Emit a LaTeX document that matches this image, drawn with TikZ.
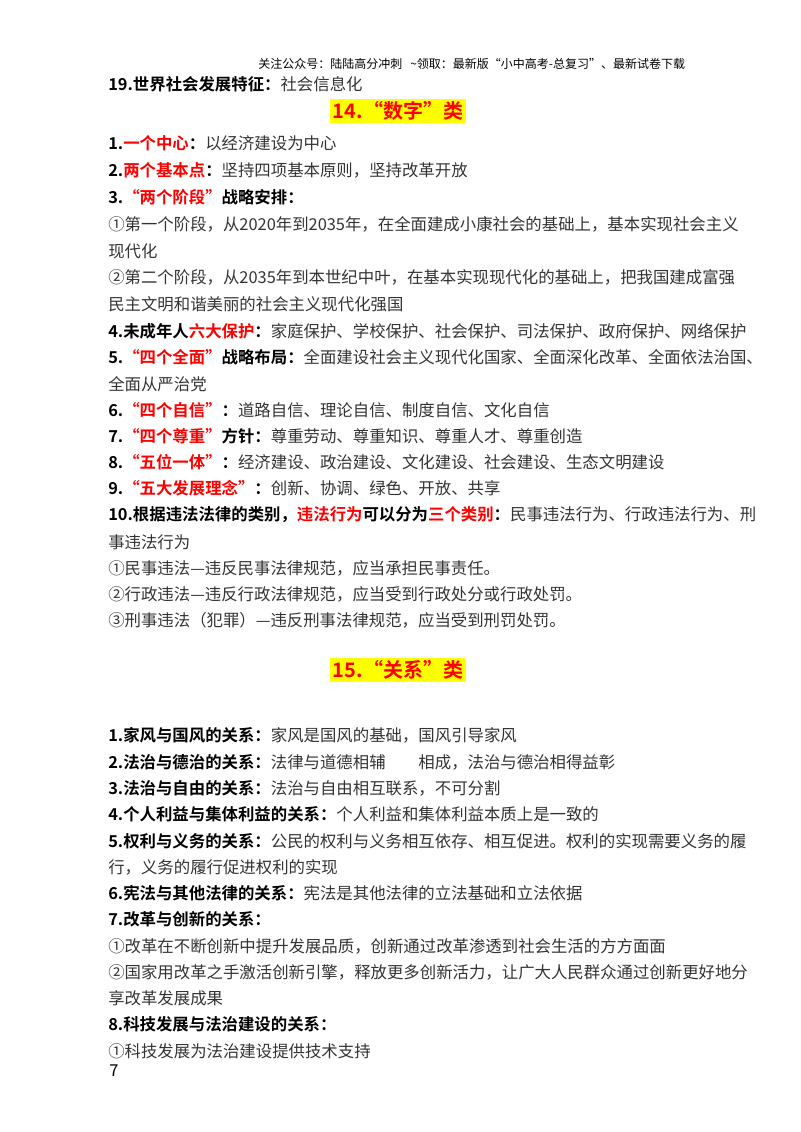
\documentclass[tikz,border=0pt]{standalone}
\usepackage{fontspec}
\setmainfont{Liberation Serif}
\newfontfamily\cjk{Noto Sans CJK SC}[BoldFont={Noto Sans CJK SC Bold}]
\definecolor{body}{HTML}{333333}
\definecolor{rd}{HTML}{FF0000}
\definecolor{hl}{HTML}{FFFF00}
\newcommand{\Bk}[1]{{\bfseries\color{black}#1}}
\newcommand{\Rd}[1]{{\bfseries\color{rd}#1}}
\tikzset{ln/.style={anchor=west,inner sep=0pt,font=\cjk\fontsize{12.3}{14}\selectfont,text=body},
 ttl/.style={inner sep=2pt,fill=hl,font=\cjk\bfseries\fontsize{15}{18}\selectfont,text=rd},
 hdr/.style={anchor=west,inner sep=0pt,font=\cjk\fontsize{9}{10}\selectfont,text=black}}
\begin{document}
\begin{tikzpicture}[x=0.75pt,y=-0.75pt]
\useasboundingbox (0,0) rectangle (800,1132);
\node[hdr] (h) at (258,64) {关注公众号：陆陆高分冲刺\ \ \ \~{}领取：最新版“小中高考-总复习”、最新试卷下载};
\node[ln] (a0) at (108,84) {\Bk{19.世界社会发展特征：}社会信息化};
\node[ttl] (t1) at (398,111) {14.“数字”类};
\node[ln] (a1) at (108,143) {\Bk{1.}\Rd{一个中心}\Bk{：}以经济建设为中心};
\node[ln] (a2) at (108,170) {\Bk{2.}\Rd{两个基本点}\Bk{：}坚持四项基本原则，坚持改革开放};
\node[ln] (a3) at (108,197) {\Bk{3.}\Rd{“两个阶段”}\Bk{战略安排：}};
\node[ln] (a4) at (108,224) {①第一个阶段，从2020年到2035年，在全面建成小康社会的基础上，基本实现社会主义};
\node[ln] (a5) at (108,251) {现代化};
\node[ln] (a6) at (108,277) {②第二个阶段，从2035年到本世纪中叶，在基本实现现代化的基础上，把我国建成富强};
\node[ln] (a7) at (108,304) {民主文明和谐美丽的社会主义现代化强国};
\node[ln] (a8) at (108,331) {\Bk{4.未成年人}\Rd{六大保护}\Bk{：}家庭保护、学校保护、社会保护、司法保护、政府保护、网络保护};
\node[ln] (a9) at (108,357) {\Bk{5.}\Rd{“四个全面”}\Bk{战略布局：}全面建设社会主义现代化国家、全面深化改革、全面依法治国、};
\node[ln] (a10) at (108,384) {全面从严治党};
\node[ln] (a11) at (108,410) {\Bk{6.}\Rd{“四个自信”}\Bk{：}道路自信、理论自信、制度自信、文化自信};
\node[ln] (a12) at (108,436) {\Bk{7.}\Rd{“四个尊重”}\Bk{方针：}尊重劳动、尊重知识、尊重人才、尊重创造};
\node[ln] (a13) at (108,462) {\Bk{8.}\Rd{“五位一体”}\Bk{：}经济建设、政治建设、文化建设、社会建设、生态文明建设};
\node[ln] (a14) at (108,488) {\Bk{9.}\Rd{“五大发展理念”}\Bk{：}创新、协调、绿色、开放、共享};
\node[ln] (a15) at (108,515) {\Bk{10.根据违法法律的类别，}\Rd{违法行为}\Bk{可以分为}\Rd{三个类别}\Bk{：}民事违法行为、行政违法行为、刑};
\node[ln] (a16) at (108,542) {事违法行为};
\node[ln] (a17) at (108,568) {①民事违法—违反民事法律规范，应当承担民事责任。};
\node[ln] (a18) at (108,594) {②行政违法—违反行政法律规范，应当受到行政处分或行政处罚。};
\node[ln] (a19) at (108,620) {③刑事违法（犯罪）—违反刑事法律规范，应当受到刑罚处罚。};
\node[ttl] (t2) at (398,670) {15.“关系”类};
\node[ln] (b1) at (108,735) {\Bk{1.家风与国风的关系：}家风是国风的基础，国风引导家风};
\node[ln] (b2) at (108,762) {\Bk{2.法治与德治的关系：}法律与道德相辅\hspace{2em}相成，法治与德治相得益彰};
\node[ln] (b3) at (108,788) {\Bk{3.法治与自由的关系：}法治与自由相互联系，不可分割};
\node[ln] (b4) at (108,814) {\Bk{4.个人利益与集体利益的关系：}个人利益和集体利益本质上是一致的};
\node[ln] (b5) at (108,841) {\Bk{5.权利与义务的关系：}公民的权利与义务相互依存、相互促进。权利的实现需要义务的履};
\node[ln] (b6) at (108,867) {行，义务的履行促进权利的实现};
\node[ln] (b7) at (108,893) {\Bk{6.宪法与其他法律的关系：}宪法是其他法律的立法基础和立法依据};
\node[ln] (b8) at (108,919) {\Bk{7.改革与创新的关系：}};
\node[ln] (b9) at (108,946) {①改革在不断创新中提升发展品质，创新通过改革渗透到社会生活的方方面面};
\node[ln] (b10) at (108,972) {②国家用改革之手激活创新引擎，释放更多创新活力，让广大人民群众通过创新更好地分};
\node[ln] (b11) at (108,998) {享改革发展成果};
\node[ln] (b12) at (108,1024) {\Bk{8.科技发展与法治建设的关系：}};
\node[ln] (b13) at (108,1051) {①科技发展为法治建设提供技术支持};
\node[ln,text=black] (pg) at (109,1071) {7};
\end{tikzpicture}
\end{document}
